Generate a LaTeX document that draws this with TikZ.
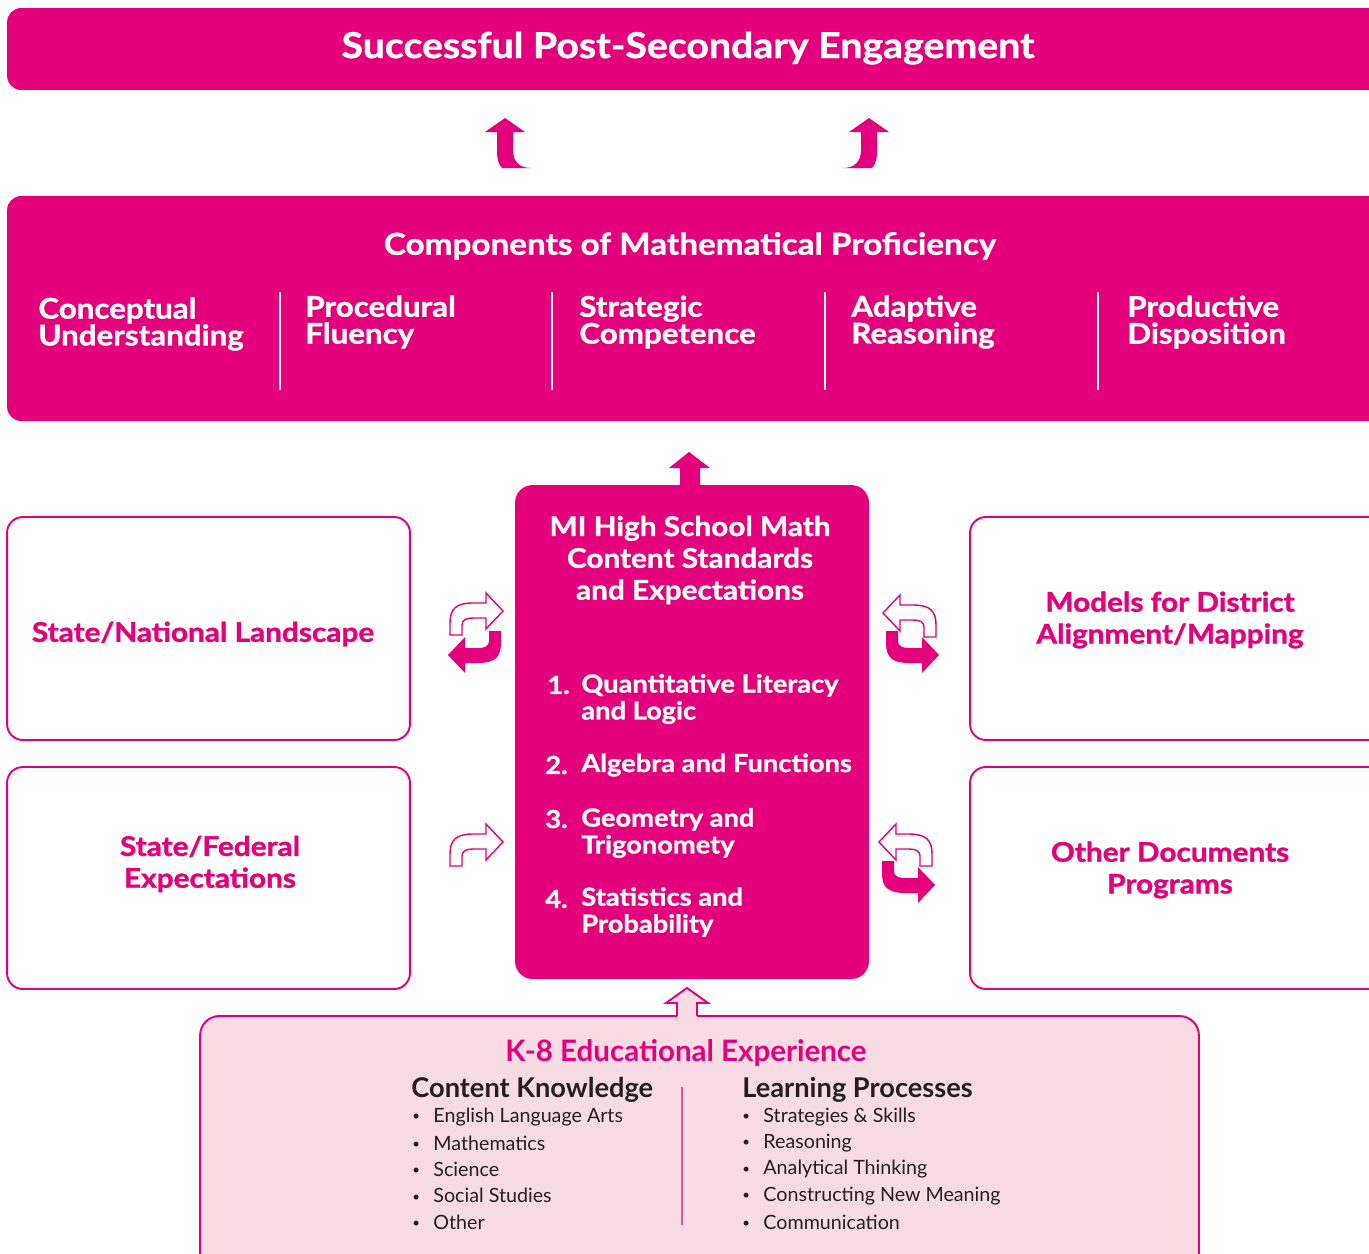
\documentclass[tikz,border=0pt]{standalone}
\usepackage{fontspec}
\setmainfont{Lato}
\newfontfamily\heavyfont{Lato}[FakeStretch=1.1,FakeBold=1.2]
\usepackage{tikz}
\usetikzlibrary{positioning}

\definecolor{mimag}{RGB}{228,0,124}
\definecolor{kpink}{RGB}{249,219,227}
\definecolor{kdark}{RGB}{35,31,32}

\newcommand{\kbullet}{\makebox[12pt][l]{\raisebox{1pt}{\fontsize{7.5}{8}\selectfont\textbullet}}}

\tikzset{
  magbox/.style={fill=mimag, draw=none, rounded corners=8pt, inner sep=0pt},
  linebox/.style={fill=white, draw=mimag, line width=1.1pt, rounded corners=9pt, inner sep=0pt},
  kbox/.style={fill=kpink, draw=mimag, line width=1.1pt, rounded corners=11pt, inner sep=0pt},
  headtxt/.style={text=white, inner sep=0pt, font=\heavyfont\bfseries},
  boxtxt/.style={text=mimag, inner sep=0pt, align=center, font=\heavyfont\bfseries\fontsize{15.4}{18.1}\selectfont},
  coltxt/.style={text=white, inner sep=0pt, anchor=west, align=left, font=\heavyfont\bfseries\fontsize{16.2}{15.3}\selectfont},
  listtxt/.style={text=white, inner sep=0pt, anchor=west, align=left, font=\heavyfont\bfseries\fontsize{14.1}{15.3}\selectfont},
  itemtxt/.style={text=kdark, inner sep=0pt, anchor=west, font=\fontsize{11.2}{13}\selectfont},
  curl/.pic={\path[pic actions] (0,0) -- (-17,-18) -- (-17,-8) -- (-30,-8)
     .. controls (-47,-8) and (-53,-2) .. (-53,12) -- (-53,24) -- (-41,24) -- (-41,14)
     .. controls (-41,9) and (-37,7) .. (-30,7) -- (-17,7) -- (-17,18) -- cycle;},
  hook/.pic={\path[pic actions] (0,0) -- (20,14) -- (8,14) -- (8,32)
     .. controls (8,44) and (15,50) .. (26,50) -- (-3,50)
     .. controls (-7,46) and (-8,40) .. (-8,32) -- (-8,14) -- (-20,14) -- cycle;}
}

\begin{document}
\begin{tikzpicture}[x=0.02cm, y=-0.02cm]
\useasboundingbox (0,0) rectangle (1369,1254);
\clip (0,0) rectangle (1369,1254);

% top row
\node[magbox, minimum width=27.56cm, minimum height=1.64cm] (engage) at (696,49) {};
\node[headtxt, font=\heavyfont\bfseries\fontsize{20.3}{22}\selectfont] (engtxt) at (688,48) {Successful Post-Secondary Engagement};

\pic[fill=mimag] at (505,118) {hook};
\pic[fill=mimag, xscale=-1] at (869,118) {hook};

% proficiency
\node[magbox, minimum width=27.56cm, minimum height=4.5cm] (comp) at (696,308.5) {};
\node[headtxt, font=\heavyfont\bfseries\fontsize{17.2}{19}\selectfont] (comptxt) at (690,246) {Components of Mathematical Proficiency};
\node[coltxt] (concept) at (38,324) {Conceptual\\Understanding};
\node[coltxt] (proc) at (305,322) {Procedural\\Fluency};
\node[coltxt] (strat) at (579,322) {Strategic\\Competence};
\node[coltxt] (adapt) at (851,322) {Adaptive\\Reasoning};
\node[coltxt] (prod) at (1127,322) {Productive\\Disposition};
\foreach \xx in {280,552,825,1098}
  \draw[white, line width=0.9pt] (\xx,292) -- (\xx,390);

% standards
\fill[mimag] (689,452) -- (710,468) -- (700,468) -- (700,490) -- (680,490) -- (680,468) -- (669,468) -- cycle;
\node[magbox, rounded corners=10pt, minimum width=7.08cm, minimum height=9.88cm] (mi) at (692,732) {};
\node[headtxt, align=center, font=\heavyfont\bfseries\fontsize{15.4}{18.1}\selectfont] (mitxt) at (690,560) {MI High School Math\\Content Standards\\and Expectations};
\node[listtxt] (n1) at (547,685) {1.};
\node[listtxt] (s1) at (581,699) {Quantitative Literacy\\and Logic};
\node[listtxt] (n2) at (545,765) {2.};
\node[listtxt] (s2) at (581,765) {Algebra and Functions};
\node[listtxt] (n3) at (545,819) {3.};
\node[listtxt] (s3) at (581,833) {Geometry and\\Trigonomety};
\node[listtxt] (n4) at (545,899) {4.};
\node[listtxt] (s4) at (581,912) {Statistics and\\Probability};

% side boxes
\node[linebox, minimum width=8.06cm, minimum height=4.46cm] (land) at (208.5,628.5) {};
\node[boxtxt] (landtxt) at (203,634) {State/National Landscape};
\node[linebox, minimum width=8.06cm, minimum height=4.44cm] (fed) at (208.5,878) {};
\node[boxtxt] (fedtxt) at (210,864) {State/Federal\\Expectations};
\node[linebox, minimum width=8.3cm, minimum height=4.46cm] (models) at (1177.5,628.5) {};
\node[boxtxt] (modtxt) at (1170,620) {Models for District\\Alignment/Mapping};
\node[linebox, minimum width=8.3cm, minimum height=4.44cm] (other) at (1177.5,878) {};
\node[boxtxt] (othtxt) at (1170,870) {Other Documents\\Programs};

% exchange arrows
\pic[draw=mimag, fill=white, line width=0.8pt] at (503,611) {curl};
\pic[fill=mimag, rotate=180] at (448,655) {curl};
\pic[draw=mimag, fill=white, line width=0.8pt] at (503,842) {curl};
\pic[draw=mimag, fill=white, line width=0.8pt, xscale=-1] at (883,613) {curl};
\pic[fill=mimag, yscale=-1] at (939,655) {curl};
\pic[draw=mimag, fill=white, line width=0.8pt, xscale=-1] at (879,842) {curl};
\pic[fill=mimag, yscale=-1] at (935,885) {curl};

% K-8
\node[kbox, minimum width=19.98cm, minimum height=5.18cm] (k8) at (699.5,1145.5) {};
\fill[kpink] (687,988) -- (708,1003) -- (697,1003) -- (697,1018) -- (677,1018) -- (677,1003) -- (666,1003) -- cycle;
\draw[mimag, line width=1.1pt] (677,1016) -- (677,1003) -- (666,1003) -- (687,988) -- (708,1003) -- (697,1003) -- (697,1016);
\node[text=mimag, font=\bfseries\fontsize{16.8}{18}\selectfont, inner sep=0pt] (k8txt) at (686,1053) {K-8 Educational Experience};
\node[text=kdark, font=\bfseries\fontsize{15.5}{17}\selectfont, inner sep=0pt, anchor=west] (ck) at (411,1090) {Content Knowledge};
\node[text=kdark, font=\bfseries\fontsize{15.5}{17}\selectfont, inner sep=0pt, anchor=west] (lp) at (742,1090) {Learning Processes};
\foreach \t [count=\i] in {English Language Arts, Mathematics, Science, Social Studies, Other}
  \node[itemtxt] (ck\i) at (412,{1117+26.25*(\i-1)}) {\kbullet\t};
\foreach \t [count=\i] in {Strategies \& Skills, Reasoning, Analytical Thinking, Constructing New Meaning, Communication}
  \node[itemtxt] (lp\i) at (742,{1117+26.25*(\i-1)}) {\kbullet\t};
\draw[mimag!70, line width=0.6pt] (682,1087) -- (682,1225);
\end{tikzpicture}
\end{document}
